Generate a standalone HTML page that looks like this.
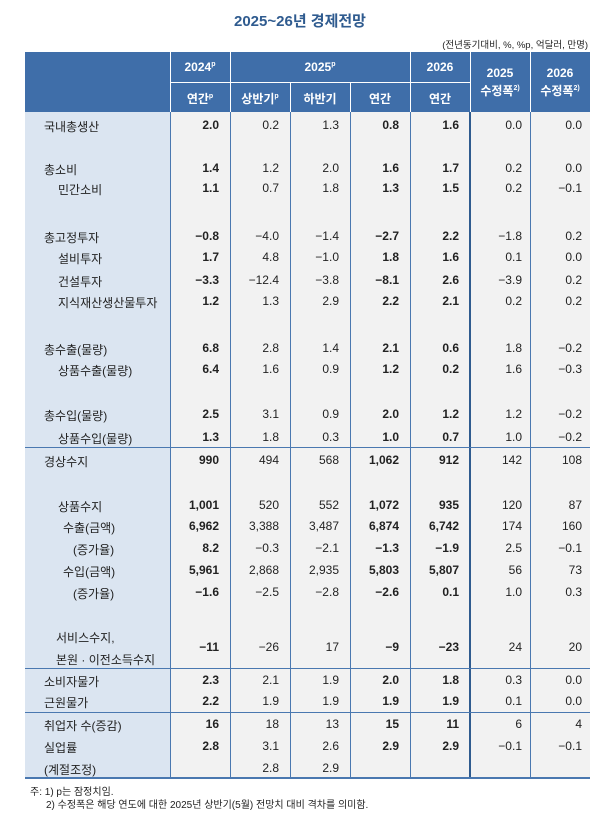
<!DOCTYPE html>
<html><head><meta charset="utf-8">
<style>
body{margin:0;width:600px;height:814px;background:#fff;font-family:"Liberation Sans Narrow","Liberation Sans","Noto Sans CJK KR",sans-serif;position:relative;overflow:hidden}
.a{position:absolute;white-space:nowrap}
.t{left:0;width:600px;text-align:center;top:10px;font-size:15px;font-weight:bold;color:#2f5b8f;font-family:"Liberation Sans","Noto Sans CJK KR",sans-serif}
.hd{color:#fff;font-weight:bold;font-size:12px;text-align:center}
.v{font-size:12px;color:#222;text-align:right}
.b{font-weight:bold}
.l{font-size:12px;color:#222;font-family:"Liberation Sans","Noto Sans CJK KR",sans-serif}
</style></head><body>
<div class="a t">2025~26년 경제전망</div>
<div class="a l" style="right:12px;top:37px;font-size:9.5px">(전년동기대비, %, %p, 억달러, 만명)</div>
<div class="a" style="left:25px;top:52px;width:565px;height:60px;background:#3f6ea9"></div>
<div class="a" style="left:25px;top:112px;width:145px;height:666px;background:#dbe5f1"></div>
<div class="a" style="left:170px;top:112px;width:420px;height:666px;background:#f2f2f2"></div>
<div id="g"></div>
<script>
var g=document.getElementById('g'),h='';
function box(x,y,w,hh,c){h+='<div class="a" style="left:'+x+'px;top:'+y+'px;width:'+w+'px;height:'+hh+'px;background:'+c+'"></div>';}
// header lines
[170,230,290,350,410,470,530].forEach(function(x){box(x,52,1,60,'#fff');});
box(170,82,300,1,'#fff');
// hide header sub-lines for merged 2025
box(290,52,1,30,'#3f6ea9');box(350,52,1,30,'#3f6ea9');
// body vertical lines
[170,230,290,350,410,530].forEach(function(x){box(x,112,1,666,'#4a78b0');});
box(469,112,2,666,'#2f5b8f');
// horizontal lines
[447,668,712].forEach(function(y){box(25,y,565,1,'#4a78b0');});
box(25,777,565,2,'#4a78b0');
function hd(x,w,y,t){h+='<div class="a hd" style="left:'+x+'px;width:'+w+'px;top:'+y+'px">'+t+'</div>';}
hd(170,60,60,'2024<sup style="font-size:7px">p</sup>');hd(230,180,60,'2025<sup style="font-size:7px">p</sup>');hd(410,60,60,'2026');
hd(170,60,90,'연간<sup style="font-size:7px">p</sup>');hd(230,60,90,'상반기<sup style="font-size:7px">p</sup>');hd(290,60,90,'하반기');hd(350,60,90,'연간');hd(410,60,90,'연간');
hd(470,60,66,'2025');hd(470,60,82,'수정폭<sup style="font-size:7px">2)</sup>');
hd(530,60,66,'2026');hd(530,60,82,'수정폭<sup style="font-size:7px">2)</sup>');
var R=[
[118,44,'국내총생산',['2.0','0.2','1.3','0.8','1.6','0.0','0.0']],
[161,44,'총소비',['1.4','1.2','2.0','1.6','1.7','0.2','0.0']],
[181,58,'민간소비',['1.1','0.7','1.8','1.3','1.5','0.2','-0.1']],
[229,44,'총고정투자',['-0.8','-4.0','-1.4','-2.7','2.2','-1.8','0.2']],
[250,58,'설비투자',['1.7','4.8','-1.0','1.8','1.6','0.1','0.0']],
[273,58,'건설투자',['-3.3','-12.4','-3.8','-8.1','2.6','-3.9','0.2']],
[294,58,'지식재산생산물투자',['1.2','1.3','2.9','2.2','2.1','0.2','0.2']],
[341,44,'총수출(물량)',['6.8','2.8','1.4','2.1','0.6','1.8','-0.2']],
[362,58,'상품수출(물량)',['6.4','1.6','0.9','1.2','0.2','1.6','-0.3']],
[407,44,'총수입(물량)',['2.5','3.1','0.9','2.0','1.2','1.2','-0.2']],
[430,58,'상품수입(물량)',['1.3','1.8','0.3','1.0','0.7','1.0','-0.2']],
[453,44,'경상수지',['990','494','568','1,062','912','142','108']],
[498,58,'상품수지',['1,001','520','552','1,072','935','120','87']],
[519,63,'수출(금액)',['6,962','3,388','3,487','6,874','6,742','174','160']],
[541,73,'(증가율)',['8.2','-0.3','-2.1','-1.3','-1.9','2.5','-0.1']],
[563,63,'수입(금액)',['5,961','2,868','2,935','5,803','5,807','56','73']],
[585,73,'(증가율)',['-1.6','-2.5','-2.8','-2.6','0.1','1.0','0.3']],
[629,56,'서비스수지,',null],
[651,56,'본원 · 이전소득수지',null],
[640,0,'',['-11','-26','17','-9','-23','24','20']],
[673,44,'소비자물가',['2.3','2.1','1.9','2.0','1.8','0.3','0.0']],
[694,44,'근원물가',['2.2','1.9','1.9','1.9','1.9','0.1','0.0']],
[717,44,'취업자 수(증감)',['16','18','13','15','11','6','4']],
[739,44,'실업률',['2.8','3.1','2.6','2.9','2.9','-0.1','-0.1']],
[761,44,'(계절조정)',['','2.8','2.9','','','','']]
];
var X=[170,230,290,350,410,470,530],B=[1,0,0,1,1,0,0];
R.forEach(function(r){
 if(r[2])h+='<div class="a l" style="left:'+r[1]+'px;top:'+r[0]+'px">'+r[2]+'</div>';
 if(r[3])r[3].forEach(function(v,i){h+='<div class="a v'+(B[i]?' b':'')+'" style="left:'+X[i]+'px;width:'+(i>4?52:49)+'px;top:'+r[0]+'px">'+v.replace(/^-/,'−')+'</div>';});
});
h+='<div class="a l" style="left:30px;top:783px;font-size:10px">주: 1) p는 잠정치임.</div>';
h+='<div class="a l" style="left:46px;top:796px;font-size:10px">2) 수정폭은 해당 연도에 대한 2025년 상반기(5월) 전망치 대비 격차를 의미함.</div>';
g.innerHTML=h;
</script>
</body></html>
